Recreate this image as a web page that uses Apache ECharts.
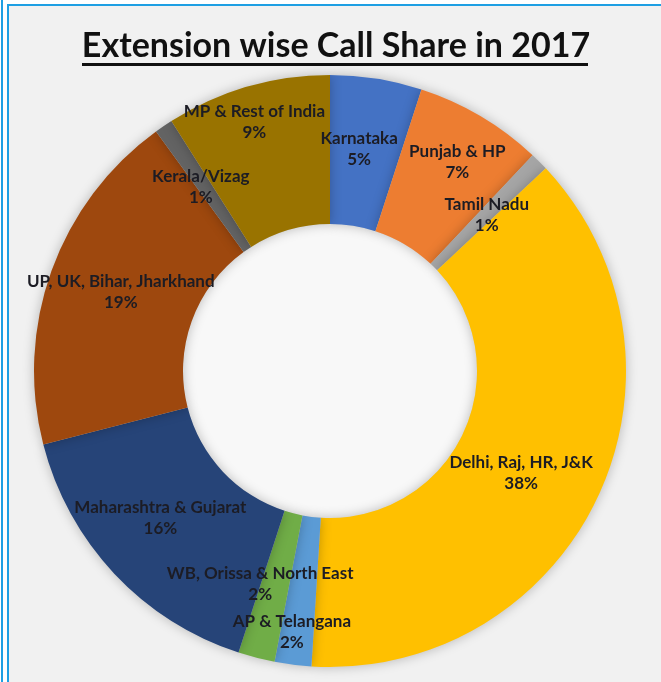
<!DOCTYPE html>
<html>
<head>
<meta charset="utf-8">
<script src="https://cdn.jsdelivr.net/npm/echarts@6/dist/echarts.min.js"></script>
<style>
	html, body { margin: 0; padding: 0; background: #fff; }
	#wrap { position: absolute; left: 1px; top: 0; width: 660px; height: 682px; border-left: 2px solid #1e9fe3; }
	#chart { position: absolute; left: 4px; top: 4px; width: 654px; height: 678px; border-left: 2px solid #1e9fe3; border-top: 2px solid #1e9fe3; background: #f1f1f1; }
</style>
</head>
<body>
<div id="wrap"><div id="chart"></div></div>
<script>
// 扇区名称（从顶部顺时针）
const regions = [
	"Karnataka",
	"Punjab & HP",
	"Tamil Nadu",
	"Delhi, Raj, HR, J&K",
	"AP & Telangana",
	"WB, Orissa & North East",
	"Maharashtra & Gujarat",
	"UP, UK, Bihar, Jharkhand",
	"Kerala/Vizag",
	"MP & Rest of India",
];
// 占比 %
const shares = [5, 7, 1, 38, 2, 2, 16, 19, 1, 9];
// 颜色
const colors = ["#4472C4", "#ED7D31", "#A5A5A5", "#FFC000", "#5B9BD5", "#70AD47", "#264478", "#9E480E", "#636363", "#997300"];

// 标签微调（模仿excel的最佳位置）
const labelShift = [
	[-6, 0], [13, -16], [-2, 3], [-12, 6], [-10, 38],
	[-14, -4], [-6, -7], [2, -3], [-3, 2], [-13, -33],
];

const myChart = echarts.init(document.querySelector("#chart"));

myChart.setOption({
	animation: false,
	title: {
		text: "Extension wise Call Share in 2017",
		left: "center",
		top: 18,
		textStyle: {
			fontFamily: "Lato",
			fontWeight: "bold",
			fontSize: 34,
			color: "#111",
		},
	},
	// 标题下划线 + 中间白色圆
	graphic: [
		{
			type: "rect",
			shape: { x: 73, y: 57, width: 506, height: 3 },
			style: { fill: "#111" },
		},
		{
			type: "circle",
			shape: { cx: 321, cy: 365, r: 147 },
			style: { fill: "#f8f8f8" },
			z: -1,
		},
	],
	color: colors,
	series: [
		{
			type: "pie",
			radius: [147, 296],
			center: [321, 365],
			startAngle: 90,
			clockwise: true,
			avoidLabelOverlap: false,
			itemStyle: {
				shadowBlur: 12,
				shadowColor: "rgba(0,0,0,0.25)",
			},
			label: {
				show: true,
				position: "inside",
				formatter: "{b}\n{c}%",
				fontFamily: "Lato",
				fontWeight: "bold",
				fontSize: 17,
				lineHeight: 21,
				color: "#1c1c24",
			},
			labelLine: { show: false },
			labelLayout: (params) => ({
				dx: labelShift[params.dataIndex][0],
				dy: labelShift[params.dataIndex][1],
			}),
			data: regions.map((name, i) => ({ name, value: shares[i] })),
		},
	],
});
</script>
</body>
</html>
